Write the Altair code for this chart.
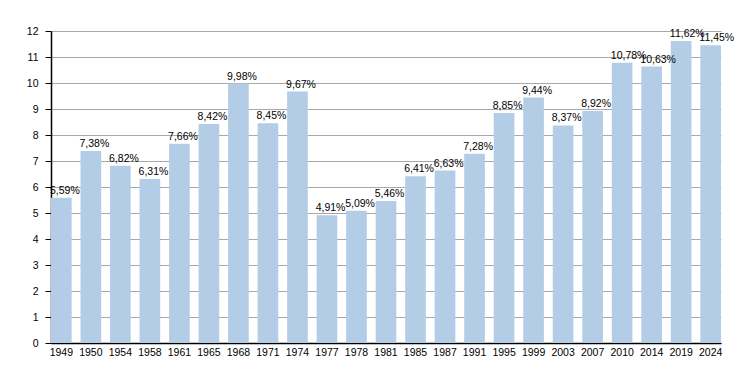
import altair as alt
import pandas as pd

years = ["1949", "1950", "1954", "1958", "1961", "1965", "1968", "1971", "1974", "1977",
         "1978", "1981", "1985", "1987", "1991", "1995", "1999", "2003", "2007", "2010",
         "2014", "2019", "2024"]
values = [5.59, 7.38, 6.82, 6.31, 7.66, 8.42, 9.98, 8.45, 9.67, 4.91,
          5.09, 5.46, 6.41, 6.63, 7.28, 8.85, 9.44, 8.37, 8.92, 10.78,
          10.63, 11.62, 11.45]
labels = [f"{v:.2f}".replace(".", ",") + "%" for v in values]
yticks = list(range(13))

df = pd.DataFrame({"year": years, "value": values, "label": labels})

font = "Liberation Sans"
xscale = alt.Scale(paddingInner=0.3, paddingOuter=0)
yscale = alt.Scale(domain=[0, 12], nice=False)

xaxis = alt.Axis(labelAngle=0, ticks=False, domainColor="black",
                 labelColor="black", labelFont=font, labelFontSize=10.5, labelPadding=4)
yaxis = alt.Axis(values=yticks, labelOverlap=False, grid=True, gridColor="#a8a8a8",
                 domainColor="black", tickColor="black", tickSize=6,
                 labelColor="black", labelFont=font, labelFontSize=10.5, labelPadding=7)

bars = alt.Chart(df).mark_bar(color="#b3cde6").encode(
    x=alt.X("year:N", sort=None, title=None, scale=xscale, axis=xaxis),
    y=alt.Y("value:Q", title=None, scale=yscale, axis=yaxis))
text = alt.Chart(df).mark_text(align="left", baseline="alphabetic", dx=-1, dy=-4,
                               font=font, fontSize=10.5, color="black").encode(
    x=alt.X("year:N", sort=None, title=None, scale=xscale, axis=xaxis, bandPosition=0),
    y=alt.Y("value:Q", title=None, scale=yscale, axis=yaxis),
    text="label:N")

chart = (bars + text).properties(
    width=670, height=312,
    autosize=alt.AutoSizeParams(type="none"),
    padding={"left": 43, "top": 23, "right": 21, "bottom": 20},
).configure_view(stroke=None).configure_axis(domainWidth=1.5)

chart.save("out.html", embed_options={"renderer": "svg", "actions": False})
